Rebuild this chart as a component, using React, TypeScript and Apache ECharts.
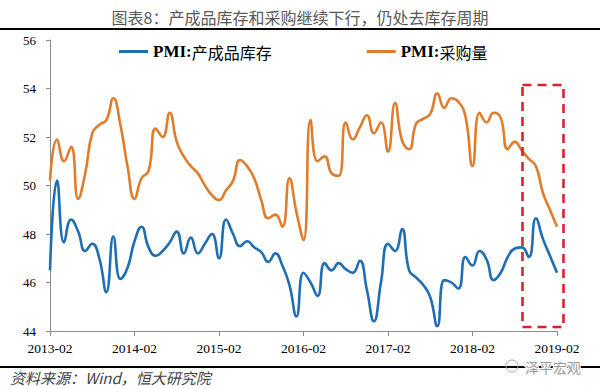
import React, { useEffect, useRef } from "react";
import * as echarts from "echarts";

// Monthly categories 2013-02 .. 2019-02
const months: string[] = [];
for (let y = 2013; y <= 2019; y++) {
  for (let m = 1; m <= 12; m++) {
    if ((y === 2013 && m < 2) || (y === 2019 && m > 2)) continue;
    months.push(`${y}-${m < 10 ? "0" + m : m}`);
  }
}

const seriesNames = ["PMI:产成品库存", "PMI:采购量"];

// PMI: finished goods inventory
const inventory = [
  46.5, 50.2, 47.65, 48.6, 48.1, 47.3, 47.6, 47.0, 45.6, 47.9, 46.15, 46.6,
  47.7, 48.3, 47.45, 47.1, 47.3, 47.65, 48.1, 47.2, 47.85, 47.2, 47.6, 48.0,
  47.0, 48.6, 48.0, 47.5, 47.7, 47.45, 47.25, 46.85, 47.2, 46.7, 45.9, 44.6,
  46.4, 46.0, 45.45, 46.8, 46.5, 46.8, 46.55, 46.4, 46.9, 45.7, 44.4, 46.0,
  47.6, 47.3, 48.2, 46.5, 46.2, 45.9, 45.4, 44.2, 46.1, 46.0, 45.75, 47.05,
  46.7, 47.3, 46.95, 46.1, 46.4, 47.05, 47.4, 47.45, 47.05, 48.65, 47.8, 47.1,
  46.4,
];

// PMI: purchase quantity
const purchase = [
  50.2, 51.9, 51.0, 51.6, 49.45, 50.5, 52.15, 52.5, 52.7, 53.6, 52.5, 50.8,
  49.45, 50.3, 50.6, 52.35, 52.0, 53.0, 51.8, 51.2, 50.8, 50.5, 50.0, 49.6,
  49.4, 49.8, 50.2, 51.05, 50.8, 50.3, 49.4, 48.65, 48.8, 48.3, 50.3, 48.9,
  47.75, 52.7, 51.0, 51.2, 50.5, 50.4, 52.6, 51.9, 52.4, 52.9, 52.15, 52.6,
  51.4, 53.4, 51.85, 51.5, 52.55, 52.75, 52.95, 53.8, 53.2, 53.6, 53.45, 52.85,
  50.8, 53.0, 52.6, 53.0, 52.8, 51.5, 51.8, 51.45, 51.1, 50.8, 49.7, 49.0,
  48.3,
];

const titleText = "图表8：产成品库存和采购继续下行，仍处去库存周期";
const sourceText = "资料来源：Wind，恒大研究院";
const watermarkText = "泽平宏观";

const BLUE = "#1F6EB4";
const ORANGE = "#E07D2C";
const AXIS = "#8C8C8C";
const SERIF = "'Liberation Serif', 'Times New Roman', serif";
const CJK = "'Noto Sans CJK SC', sans-serif";

export default function App() {
  const ref = useRef<HTMLDivElement>(null);

  useEffect(() => {
    document.body.style.margin = "0";
    if (!ref.current) return;
    const chart = echarts.init(ref.current, undefined, { renderer: "svg" });

    const legendFormatter = (name: string) => {
      const rest = name.replace("PMI:", "");
      return `{a|PMI:}{b|${rest}}`;
    };

    chart.setOption({
      animation: false,
      backgroundColor: "#ffffff",
      title: {
        text: titleText,
        left: "center",
        top: 4,
        textStyle: {
          fontFamily: CJK,
          fontSize: 16,
          fontWeight: "normal",
          color: "#595959",
        },
      },
      legend: {
        left: 114,
        top: 38,
        itemGap: 95,
        itemWidth: 29,
        itemHeight: 3,
        icon: "rect",
        data: seriesNames,
        formatter: legendFormatter,
        textStyle: {
          rich: {
            a: {
              fontFamily: SERIF,
              fontWeight: "bold",
              fontSize: 17,
              color: "#000",
            },
            b: {
              fontFamily: CJK,
              fontSize: 16,
              color: "#000",
            },
          },
        },
      },
      grid: {
        left: 50,
        right: 43,
        top: 40,
        bottom: 58,
        containLabel: false,
      },
      xAxis: {
        type: "category",
        data: months,
        boundaryGap: false,
        axisLine: { show: true, lineStyle: { color: AXIS, width: 1 } },
        axisTick: {
          show: true,
          interval: 11,
          length: 5,
          lineStyle: { color: AXIS },
        },
        axisLabel: {
          interval: 11,
          margin: 10,
          fontFamily: SERIF,
          fontSize: 13.5,
          color: "#000",
        },
        splitLine: { show: false },
      },
      yAxis: {
        type: "value",
        min: 44,
        max: 56,
        interval: 2,
        axisLine: { show: true, lineStyle: { color: AXIS, width: 1 } },
        axisTick: { show: true, length: 4, lineStyle: { color: AXIS } },
        axisLabel: {
          margin: 14,
          fontFamily: SERIF,
          fontSize: 13,
          color: "#000",
        },
        splitLine: { show: false },
      },
      series: [
        {
          name: seriesNames[0],
          type: "line",
          data: inventory,
          smooth: 0.5,
          symbol: "none",
          lineStyle: { color: BLUE, width: 2.6 },
          itemStyle: { color: BLUE },
        },
        {
          name: seriesNames[1],
          type: "line",
          data: purchase,
          smooth: 0.5,
          symbol: "none",
          lineStyle: { color: ORANGE, width: 2.6 },
          itemStyle: { color: ORANGE },
        },
      ],
      graphic: [
        {
          type: "line",
          shape: { x1: 0, y1: 29, x2: 600, y2: 29 },
          style: { stroke: "#000", lineWidth: 2 },
        },
        {
          type: "line",
          shape: { x1: 0, y1: 367, x2: 600, y2: 367 },
          style: { stroke: "#000", lineWidth: 2 },
        },
        {
          type: "rect",
          shape: { x: 522.5, y: 85, width: 41, height: 242 },
          style: {
            fill: "none",
            stroke: "#D7232B",
            lineWidth: 2.6,
            lineDash: [9, 6],
          },
          z: 10,
        },
        {
          type: "text",
          left: 10,
          top: 370,
          style: {
            text: sourceText,
            fontFamily: CJK,
            fontStyle: "italic",
            fontSize: 15,
            fill: "#444",
          },
        },
        {
          type: "circle",
          shape: { cx: 512, cy: 366, r: 6 },
          style: { fill: "none", stroke: "#aaa", lineWidth: 1 },
          z: 5,
        },
        {
          type: "text",
          left: 524,
          top: 359,
          style: {
            text: watermarkText,
            fontFamily: CJK,
            fontSize: 14,
            fill: "#9a9a9a",
            stroke: "#fff",
            lineWidth: 2,
          },
          z: 5,
        },
      ],
    });

    return () => {
      chart.dispose();
    };
  }, []);

  return <div ref={ref} style={{ width: 600, height: 389 }} />;
}
